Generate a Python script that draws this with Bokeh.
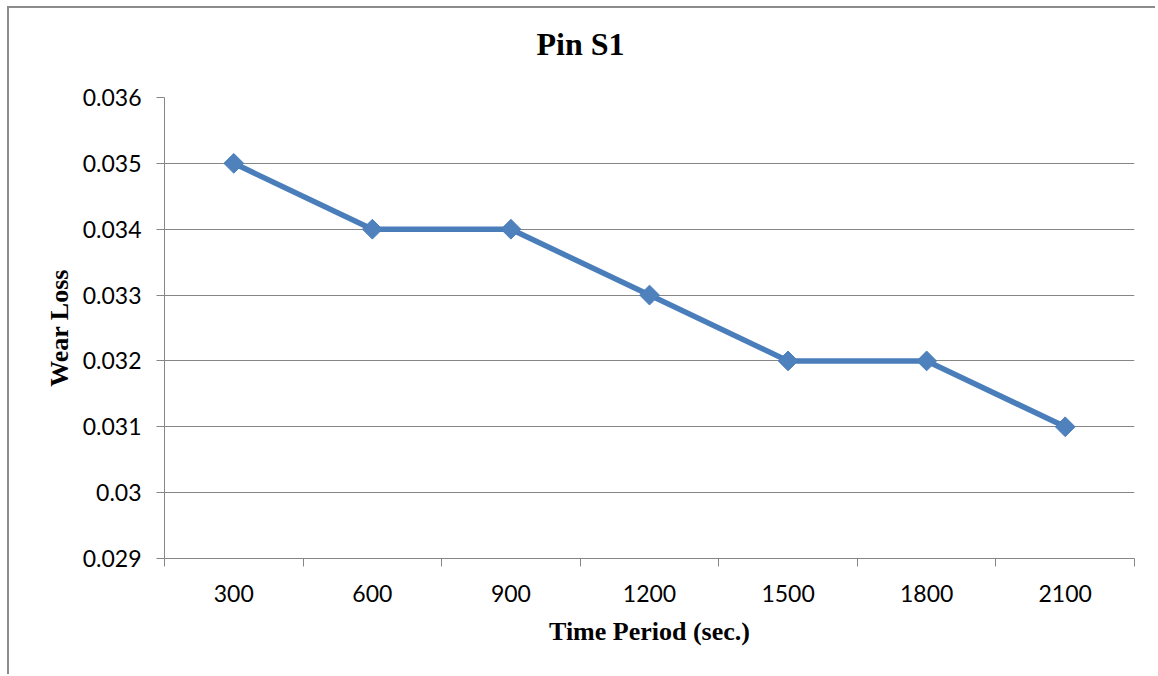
import math
from bokeh.plotting import figure
from bokeh.models import FixedTicker, Range1d, LinearAxis
from bokeh.embed import file_html
from bokeh.resources import INLINE

# ---- data ----
categories = ["300", "600", "900", "1200", "1500", "1800", "2100"]
wear_loss = [0.035, 0.034, 0.034, 0.033, 0.032, 0.032, 0.031]
y_ticks = [0.029, 0.03, 0.031, 0.032, 0.033, 0.034, 0.035, 0.036]
y_tick_labels = ["0.029", "0.03", "0.031", "0.032", "0.033", "0.034", "0.035", "0.036"]
chart_title = "Pin S1"

x_pos = [i + 1 for i in range(len(categories))]
x_bounds = [i + 0.5 for i in range(len(categories) + 1)]

GRAY = "#868686"
W, H = 1148, 668

p = figure(width=W, height=H, output_backend="svg", toolbar_location=None,
           x_range=Range1d(0.5, len(categories) + 0.5),
           y_range=Range1d(y_ticks[0], y_ticks[-1]),
           min_border_left=155, min_border_right=23,
           min_border_top=89, min_border_bottom=118)

p.styles = {"border-left": "2px solid #8c8c8c", "border-top": "2px solid #8c8c8c",
            "margin-left": "7px", "margin-top": "6px"}
p.outline_line_color = None
p.background_fill_color = "white"
p.border_fill_color = "white"

xaxis = p.below[0]
yaxis = p.left[0]

# invisible spacer between plot frame and title (ticks hidden, labels empty)
spacer = LinearAxis(ticker=FixedTicker(ticks=x_pos, minor_ticks=[]),
                    major_tick_out=31, major_tick_in=0, minor_tick_out=0, minor_tick_in=0,
                    axis_line_color=None, major_tick_line_color=None,
                    minor_tick_line_color=None, major_label_standoff=0,
                    major_label_text_font_size="0px",
                    major_label_overrides={x: "" for x in x_pos})
p.add_layout(spacer, "above")

# title
p.title.text = chart_title
p.title.text_font = "Liberation Serif"
p.title.text_font_style = "bold"
p.title.text_font_size = "32px"
p.title.text_color = "black"
p.title.align = "left"
p.title.offset = 372
p.title.standoff = 10

# x axis
xt = FixedTicker(ticks=x_pos, minor_ticks=x_bounds)
xaxis.ticker = xt
xaxis.major_label_overrides = {x: c for x, c in zip(x_pos, categories)}
xaxis.major_tick_out = 0
xaxis.major_tick_in = 0
xaxis.minor_tick_out = 8
xaxis.minor_tick_in = 0
xaxis.major_label_standoff = 18
xaxis.axis_label = "Time Period (sec.)"
xaxis.axis_label_standoff = 12
p.xgrid.visible = False

# y axis
yt = FixedTicker(ticks=y_ticks, minor_ticks=[])
yaxis.ticker = yt
p.ygrid.ticker = yt
yaxis.major_label_overrides = {t: l for t, l in zip(y_ticks, y_tick_labels)}
yaxis.major_tick_out = 8
yaxis.major_tick_in = 0
yaxis.minor_tick_out = 0
yaxis.minor_tick_in = 0
yaxis.major_label_standoff = 15
yaxis.axis_label = "Wear Loss"
yaxis.axis_label_standoff = 6

for ax in (xaxis, yaxis):
    ax.axis_line_color = GRAY
    ax.axis_line_width = 1
    ax.major_tick_line_color = GRAY
    ax.minor_tick_line_color = GRAY
    ax.major_label_text_font = "Lato"
    ax.major_label_text_font_size = "23px"
    ax.major_label_text_color = "black"
    ax.axis_label_text_font = "Liberation Serif"
    ax.axis_label_text_font_style = "bold"
    ax.axis_label_text_font_size = "26px"
    ax.axis_label_text_color = "black"

p.ygrid.grid_line_color = GRAY
p.ygrid.grid_line_width = 1

# series
p.line(x_pos, wear_loss, line_width=5.5, line_color="#4A7EBB")
p.scatter(x_pos, wear_loss, marker="square", size=14, angle=math.pi / 4,
          fill_color="#4F81BD", line_color="#4A7EBB", line_width=1)

open("out.html", "w").write(file_html(p, INLINE))
